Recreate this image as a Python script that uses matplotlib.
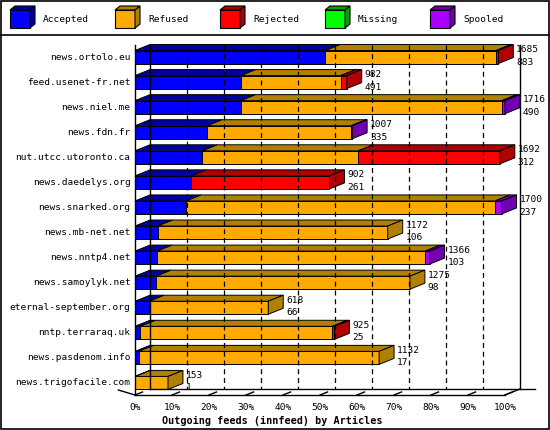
import matplotlib
matplotlib.use("Agg")
import matplotlib.pyplot as plt
from matplotlib.patches import Polygon, Rectangle

hosts = ["news.ortolo.eu", "feed.usenet-fr.net", "news.niel.me", "news.fdn.fr",
         "nut.utcc.utoronto.ca", "news.daedelys.org", "news.snarked.org", "news.mb-net.net",
         "news.nntp4.net", "news.samoylyk.net", "eternal-september.org", "nntp.terraraq.uk",
         "news.pasdenom.info", "news.trigofacile.com"]
totals   = [1685, 982, 1716, 1007, 1692, 902, 1700, 1172, 1366, 1275, 618, 925, 1132, 153]
accepted = [883, 491, 490, 335, 312, 261, 237, 106, 103, 98, 66, 25, 17, 1]
refused  = [792, 463, 1211, 667, 724, 0, 1433, 1066, 1243, 1177, 552, 890, 1115, 152]
rejected = [10, 28, 0, 0, 656, 641, 0, 0, 0, 0, 0, 10, 0, 0]
missing  = [0] * 14
spooled  = [0, 0, 15, 5, 0, 0, 30, 0, 20, 0, 0, 0, 0, 0]

series = [("Accepted", accepted, "#0000ff", "#0000a0"),
          ("Refused", refused, "#ffaa00", "#b08000"),
          ("Rejected", rejected, "#ff0000", "#b00000"),
          ("Missing", missing, "#00ff00", "#00a000"),
          ("Spooled", spooled, "#aa00ff", "#7000b0")]

FONT = "DejaVu Sans Mono"
FS = 6.8
fig = plt.figure(figsize=(5.5, 4.3), dpi=100)
fig.patch.set_facecolor("white")

frame = fig.add_axes([0, 0, 1, 1]); frame.set_xlim(0, 550); frame.set_ylim(430, 0); frame.axis("off")
frame.add_patch(Rectangle((1, 1), 548, 428, fill=False, lw=1.2, ec="black"))
frame.plot([1, 549], [35, 35], color="black", lw=1.2)
lx = [10, 115, 220, 325, 430]
for x0, (name, _, c, dc) in zip(lx, series):
    frame.add_patch(Polygon([(x0, 28), (x0, 10), (x0 + 20, 10), (x0 + 20, 28)], fc=c, ec="black", lw=0.8))
    frame.add_patch(Polygon([(x0, 10), (x0 + 5, 6), (x0 + 25, 6), (x0 + 20, 10)], fc=dc, ec="black", lw=0.8))
    frame.add_patch(Polygon([(x0 + 20, 10), (x0 + 25, 6), (x0 + 25, 24), (x0 + 20, 28)], fc=dc, ec="black", lw=0.8))
    frame.text(x0 + 33, 19.5, name, fontsize=FS, family=FONT, va="center")

ax = fig.add_axes([135 / 550, 35 / 430, 370 / 550, 350 / 430])
ax.set_xlim(0, 100); ax.set_ylim(13.48, -0.48); ax.axis("off")
dx, dy = 4.05, -0.24
h = 0.26
ymax = max(totals)
bot, top = 13.48, -0.48

ax.plot([dx, dx], [top, bot + dy], color="black", lw=1, clip_on=False)
ax.plot([100 + dx, 100 + dx], [top, bot + dy], color="black", lw=1, clip_on=False)
ax.plot([0, 0], [top, bot], color="black", lw=1, clip_on=False)
for p in range(10, 100, 10):
    ax.plot([p + dx, p + dx], [top, bot + dy], color="black", lw=0.9, ls=(0, (4, 3)), clip_on=False)
ax.plot([dx, 100 + dx + 4], [bot + dy, bot + dy], color="black", lw=1, clip_on=False)
ax.plot([0, 100], [bot, bot], color="black", lw=1, clip_on=False)
ax.plot([-4.5, 0], [bot - 0.2, bot], color="black", lw=1, clip_on=False)
ax.plot([100, 100 + dx], [bot, bot + dy], color="black", lw=1, clip_on=False)
for p in range(0, 101, 10):
    ax.plot([p, p + dx * 0.5], [bot, bot + dy * 0.5], color="black", lw=1, clip_on=False)
    ax.text(p, bot + 0.3, f"{p}%", fontsize=FS, family=FONT, ha="center", va="top")
ax.text(37, bot + 0.85, "Outgoing feeds (innfeed) by Articles", fontsize=7.3, family=FONT,
        weight="bold", ha="center", va="top")

for i, host in enumerate(hosts):
    left = 0.0
    segs = []
    for name, vals, c, dc in series:
        w = vals[i] / ymax * 100
        if w > 0:
            segs.append((left, w, c, dc))
            left += w
    for l, w, c, dc in segs:
        ax.add_patch(Polygon([(l, i - h), (l + dx, i - h + dy), (l + w + dx, i - h + dy), (l + w, i - h)],
                             fc=dc, ec="black", lw=0.7, clip_on=False))
    for l, w, c, dc in segs:
        ax.add_patch(Rectangle((l, i - h), w, 2 * h, fc=c, ec="black", lw=0.7, clip_on=False))
    l, w, c, dc = segs[-1]
    e = l + w
    ax.add_patch(Polygon([(e, i - h), (e + dx, i - h + dy), (e + dx, i + h + dy), (e, i + h)],
                         fc=dc, ec="black", lw=0.7, clip_on=False))
    ax.text(e + dx + 0.8, i - 0.3, str(totals[i]), fontsize=FS, family=FONT, va="center")
    ax.text(e + dx + 0.8, i + 0.2, str(accepted[i]), fontsize=FS, family=FONT, va="center")
    ax.text(-1.2, i, host, fontsize=FS, family=FONT, ha="right", va="center")

fig.savefig("out.png", dpi=100)
